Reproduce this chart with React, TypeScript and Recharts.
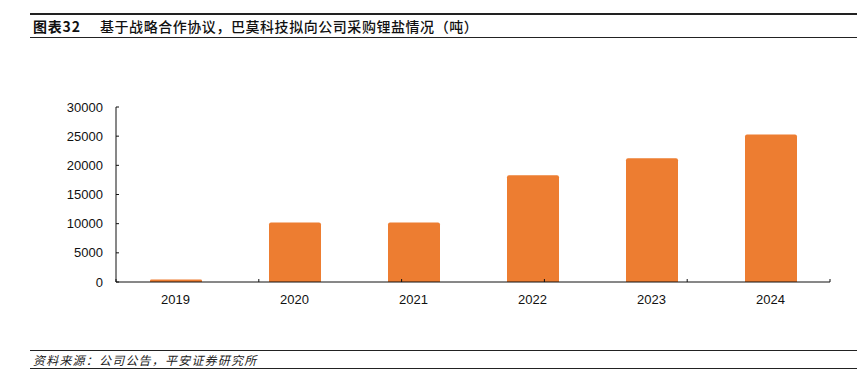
import React from 'react';
import { BarChart, Bar, XAxis, YAxis } from 'recharts';

const years = ['2019', '2020', '2021', '2022', '2023', '2024'];
const purchases = [450, 10200, 10200, 18300, 21200, 25300];
const yTicks = [0, 5000, 10000, 15000, 20000, 25000, 30000];
const edgeTicks = [0, 1, 2, 3, 4, 5, 6];

const titleLabel = '图表32';
const titleText = '基于战略合作协议，巴莫科技拟向公司采购锂盐情况（吨）';
const sourceText = '资料来源：公司公告，平安证券研究所';

const data = years.map((y, i) => ({ year: y, value: purchases[i] }));

const cjk = '"Noto Sans CJK SC", "Liberation Sans", Arial, sans-serif';
const latin = '"Liberation Sans", Arial, sans-serif';

export default function App() {
  return (
    <div style={{ position: 'absolute', left: 0, top: 0, width: 857, height: 389, background: '#fff', overflow: 'hidden' }}>
      <div style={{ position: 'absolute', left: 30, right: 0, top: 13, height: 0, borderTop: '2px solid #222' }} />
      <div style={{ position: 'absolute', left: 33, top: 16, fontFamily: cjk, fontSize: 14, color: '#111', whiteSpace: 'nowrap', lineHeight: '20px' }}>
        <span style={{ display: 'inline-block', width: 67, fontWeight: 700, letterSpacing: 0.8 }}>{titleLabel}</span>
        <span style={{ fontWeight: 500, letterSpacing: 0.55 }}>{titleText}</span>
      </div>
      <div style={{ position: 'absolute', left: 30, right: 0, top: 37, height: 0, borderTop: '1.5px solid #222' }} />
      <div style={{ position: 'absolute', left: 0, top: 0 }}>
        <BarChart width={857} height={389} data={data} margin={{ top: 107, right: 27, bottom: 77, left: 0 }}>
          <XAxis
            xAxisId="b1"
            dataKey="year"
            height={29}
            axisLine={false}
            tickLine={false}
            tickSize={0}
            tickMargin={12}
            tick={{ fill: '#111', fontSize: 13, fontFamily: latin }}
          />
          <XAxis
            xAxisId="a0"
            type="number"
            domain={[0, 6]}
            ticks={edgeTicks}
            height={1}
            tickSize={-3}
            tickFormatter={() => ''}
            axisLine={{ stroke: '#111', strokeWidth: 1 }}
            tickLine={{ stroke: '#111', strokeWidth: 1 }}
            allowDataOverflow
          />
          <YAxis
            width={116}
            domain={[0, 30000]}
            ticks={yTicks}
            interval={0}
            tickSize={-3}
            tickMargin={16}
            axisLine={{ stroke: '#111', strokeWidth: 1 }}
            tickLine={{ stroke: '#111', strokeWidth: 1 }}
            tick={{ fill: '#111', fontSize: 13, fontFamily: latin }}
          />
          <Bar xAxisId="b1" dataKey="value" fill="#ED7D31" barSize={52} radius={[2, 2, 0, 0]} isAnimationActive={false} />
        </BarChart>
      </div>
      <div style={{ position: 'absolute', left: 30, right: 0, top: 350, height: 0, borderTop: '1.5px solid #222' }} />
      <div style={{ position: 'absolute', left: 33, top: 352, fontFamily: cjk, fontSize: 12, fontStyle: 'italic', color: '#222', whiteSpace: 'nowrap', lineHeight: '16px', letterSpacing: 1.2 }}>
        {sourceText}
      </div>
      <div style={{ position: 'absolute', left: 30, right: 0, top: 368, height: 0, borderTop: '1.5px solid #222' }} />
    </div>
  );
}
